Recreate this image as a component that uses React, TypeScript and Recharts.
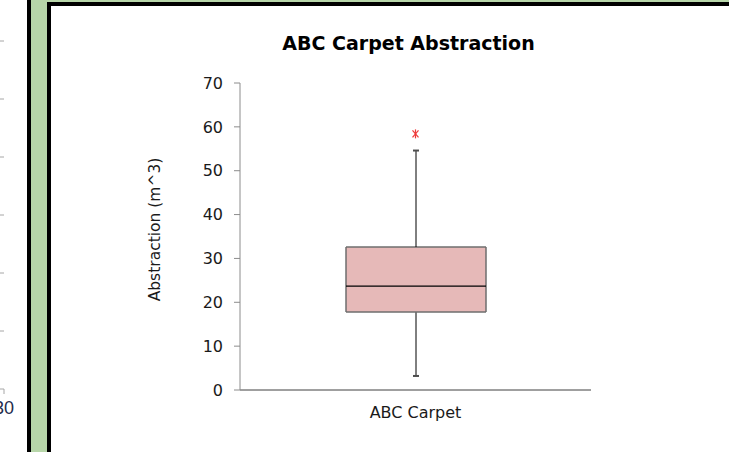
import React from 'react';
import { ComposedChart, Bar, Scatter, XAxis, YAxis, ReferenceLine } from 'recharts';

// box plot summary
const categories = ['ABC Carpet'];
const minValues = [3.2];
const q1Values = [17.8];
const medianValues = [23.7];
const q3Values = [32.6];
const maxValues = [54.6];
const outlierValues = [58.4];
const yTicks = [0, 10, 20, 30, 40, 50, 60, 70];
const edgeTicks = [0, 1];

// the neighbouring chart that peeks in at the left edge
const sideXRange = [0, 30];
const sideGridValues = [1, 2, 3, 4, 5, 6];
const sideXTicks = [30];

const data = categories.map((name, i) => ({
  name,
  base: minValues[i],
  lowWhisker: q1Values[i] - minValues[i],
  lowBox: medianValues[i] - q1Values[i],
  highBox: q3Values[i] - medianValues[i],
  highWhisker: maxValues[i] - q3Values[i],
  outlier: outlierValues[i],
}));

const sideData = sideXRange.map((x) => ({ x }));

const FONT = "'DejaVu Sans', sans-serif";
const GREEN = '#b7d6a9';
const BOX_FILL = '#e6b9b8';
const BOX_EDGE = '#6e6e6e';
const CAP = '#4d4d4d';
const AXIS_GREY = '#8c8c8c';
const SIDE_GREY = '#a6a6a6';

const LowWhisker = (props: any) => {
  const { x, y, width, height } = props;
  const cx = x + width / 2;
  return (
    <g>
      <line x1={cx} y1={y} x2={cx} y2={y + height} stroke="#000" strokeWidth={1} />
      <line x1={cx - 3} y1={y + height} x2={cx + 3} y2={y + height} stroke={CAP} strokeWidth={2} />
    </g>
  );
};

const HighWhisker = (props: any) => {
  const { x, y, width, height } = props;
  const cx = x + width / 2;
  return (
    <g>
      <line x1={cx} y1={y} x2={cx} y2={y + height} stroke="#000" strokeWidth={1} />
      <line x1={cx - 3} y1={y} x2={cx + 3} y2={y} stroke={CAP} strokeWidth={2} />
    </g>
  );
};

const LowBox = (props: any) => {
  const { x, y, width, height } = props;
  return (
    <g>
      <rect x={x} y={y} width={width} height={height} fill={BOX_FILL} />
      <g stroke={BOX_EDGE} strokeWidth={1.5}>
        <line x1={x} y1={y} x2={x} y2={y + height} />
        <line x1={x + width} y1={y} x2={x + width} y2={y + height} />
        <line x1={x} y1={y + height} x2={x + width} y2={y + height} />
      </g>
    </g>
  );
};

const HighBox = (props: any) => {
  const { x, y, width, height } = props;
  return (
    <g>
      <rect x={x} y={y} width={width} height={height} fill={BOX_FILL} />
      <g stroke={BOX_EDGE} strokeWidth={1.5}>
        <line x1={x} y1={y} x2={x} y2={y + height} />
        <line x1={x + width} y1={y} x2={x + width} y2={y + height} />
        <line x1={x} y1={y} x2={x + width} y2={y} />
      </g>
      {/* median */}
      <line x1={x} y1={y + height} x2={x + width} y2={y + height} stroke="#000" strokeWidth={1.2} />
    </g>
  );
};

const Asterisk = (props: any) => {
  const { cx, cy } = props;
  return (
    <g stroke="#ee3b3b" strokeWidth={1.2}>
      <line x1={cx - 3} y1={cy - 3.5} x2={cx + 3} y2={cy + 3.5} />
      <line x1={cx - 3} y1={cy + 3.5} x2={cx + 3} y2={cy - 3.5} />
      <line x1={cx} y1={cy - 4.5} x2={cx} y2={cy + 4.5} />
    </g>
  );
};

const YTitle = (props: any) => {
  const vb = props.viewBox;
  const x = vb.x + 15;
  const y = vb.y + vb.height / 2 - 7;
  return (
    <text
      x={x}
      y={y}
      transform={`rotate(-90, ${x}, ${y})`}
      textAnchor="middle"
      dominantBaseline="central"
      fontFamily={FONT}
      fontSize={15.5}
      fill="#1a1a1a"
    >
      Abstraction (m^3)
    </text>
  );
};

export default function App() {
  return (
    <div
      style={{
        position: 'absolute',
        left: 0,
        top: 0,
        width: 729,
        height: 452,
        overflow: 'hidden',
        background: '#fff',
        fontFamily: FONT,
      }}
    >
      <div style={{ position: 'absolute', left: -60, top: 0 }}>
        <ComposedChart width={80} height={452} data={sideData} margin={{ top: 41, right: 16, bottom: 0, left: 0 }}>
          <XAxis
            type="number"
            dataKey="x"
            domain={[0, 30]}
            ticks={sideXTicks}
            interval={0}
            height={63}
            axisLine={{ stroke: SIDE_GREY }}
            tickLine={{ stroke: SIDE_GREY }}
            tickSize={5}
            tickMargin={7}
            tick={{ fill: '#1f2d4d', fontSize: 18, fontFamily: "'Liberation Sans', sans-serif" }}
          />
          <YAxis type="number" domain={[0, 6]} width={0} tick={false} tickLine={false} axisLine={false} />
          {sideGridValues.map((v) => (
            <ReferenceLine key={v} y={v} stroke={SIDE_GREY} ifOverflow="extendDomain" />
          ))}
        </ComposedChart>
      </div>

      <div style={{ position: 'absolute', left: 27, top: 0, width: 4, height: 452, background: '#000' }} />
      <div style={{ position: 'absolute', left: 31, top: 0, width: 698, height: 452, background: GREEN }} />
      <div
        style={{
          position: 'absolute',
          left: 47,
          top: 2,
          width: 730,
          height: 490,
          border: '4px solid #000',
          boxSizing: 'border-box',
          background: '#fff',
        }}
      />

      <div
        style={{
          position: 'absolute',
          left: 0,
          top: 32,
          width: 817,
          textAlign: 'center',
          fontSize: 19,
          lineHeight: '22px',
          fontWeight: 'bold',
          color: '#000',
        }}
      >
        ABC Carpet Abstraction
      </div>

      <div style={{ position: 'absolute', left: 0, top: 0 }}>
        <ComposedChart width={729} height={452} data={data} margin={{ top: 83, right: 138, bottom: 0, left: 140 }}>
          <XAxis
            xAxisId="edge"
            type="number"
            domain={[0, 1]}
            ticks={edgeTicks}
            interval={0}
            height={0}
            tick={false}
            axisLine={false}
            tickLine={{ stroke: AXIS_GREY }}
            tickSize={5}
          />
          <XAxis
            xAxisId="cat"
            dataKey="name"
            height={62}
            axisLine={{ stroke: '#404040' }}
            tickLine={false}
            tickSize={0}
            tickMargin={17}
            tick={{ fill: '#1a1a1a', fontSize: 16, fontFamily: FONT }}
          />
          <YAxis
            domain={[0, 70]}
            ticks={yTicks}
            interval={0}
            width={100}
            axisLine={{ stroke: AXIS_GREY }}
            tickLine={{ stroke: AXIS_GREY }}
            tickSize={6}
            tickMargin={11}
            tick={{ fill: '#1a1a1a', fontSize: 16, fontFamily: FONT }}
            label={<YTitle />}
          />
          <Bar xAxisId="cat" dataKey="base" stackId="box" barSize={140} fill="none" isAnimationActive={false} />
          <Bar xAxisId="cat" dataKey="lowWhisker" stackId="box" barSize={140} shape={LowWhisker} isAnimationActive={false} />
          <Bar xAxisId="cat" dataKey="lowBox" stackId="box" barSize={140} shape={LowBox} isAnimationActive={false} />
          <Bar xAxisId="cat" dataKey="highBox" stackId="box" barSize={140} shape={HighBox} isAnimationActive={false} />
          <Bar xAxisId="cat" dataKey="highWhisker" stackId="box" barSize={140} shape={HighWhisker} isAnimationActive={false} />
          <Scatter xAxisId="cat" dataKey="outlier" shape={Asterisk} isAnimationActive={false} />
        </ComposedChart>
      </div>
    </div>
  );
}
